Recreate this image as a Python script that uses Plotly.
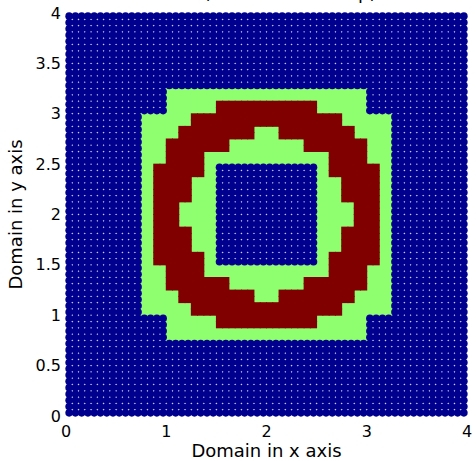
import numpy as np
import plotly.graph_objects as go

# Uniform cell-centred grid on [0, 4] x [0, 4]
DOMAIN = 4.0
N_CELLS = 64

# Cell classes as inclusive index boxes (row_from_top0, row_from_top1, col0, col1)
OUTER_BAND_BOXES = [(12, 51, 16, 47), (16, 47, 12, 51)]
RING_BOXES = [(14, 49, 24, 39), (16, 47, 20, 43), (18, 45, 18, 45),
              (20, 43, 16, 47), (24, 39, 14, 49)]
INNER_BAND_BOXES = [(18, 45, 30, 33), (20, 43, 26, 37), (22, 41, 22, 41),
                    (26, 37, 20, 43), (30, 33, 18, 45)]
CORE_BOXES = [(24, 39, 24, 39)]

CLASS_COLORS = {0: "rgb(0,0,143)", 1: "rgb(143,255,112)", 2: "rgb(128,0,0)"}

X_TICKS = [0, 1, 2, 3, 4]
Y_TICKS = [0, 0.5, 1, 1.5, 2, 2.5, 3, 3.5, 4]

cls = np.zeros((N_CELLS, N_CELLS), dtype=int)


def paint(boxes, value):
    for r0, r1, c0, c1 in boxes:
        cls[r0:r1 + 1, c0:c1 + 1] = value


paint(OUTER_BAND_BOXES, 1)
paint(RING_BOXES, 2)
paint(INNER_BAND_BOXES, 1)
paint(CORE_BOXES, 0)

h = DOMAIN / N_CELLS
rows, cols = np.indices(cls.shape)
xc = (cols + 0.5) * h
yc = DOMAIN - (rows + 0.5) * h

fig = go.Figure()

# band and ring cells first (solid squares), background cells on top as dots
for k in (1, 2):
    m = cls == k
    fig.add_trace(go.Scatter(
        x=xc[m], y=yc[m], mode="markers", cliponaxis=False,
        marker=dict(symbol="square", size=7.2, color=CLASS_COLORS[k],
                    line=dict(width=0)),
        hoverinfo="skip", showlegend=False))

m = cls == 0
fig.add_trace(go.Scatter(
    x=xc[m], y=yc[m], mode="markers", cliponaxis=False,
    marker=dict(symbol="circle", size=7.6, color=CLASS_COLORS[0],
                line=dict(width=0)),
    hoverinfo="skip", showlegend=False))

font = "DejaVu Sans"
fig.update_layout(
    width=476, height=461,
    margin=dict(l=66, r=4, t=13, b=44, pad=0),
    paper_bgcolor="white", plot_bgcolor="white",
    font=dict(family=font, color="black"),
    xaxis=dict(range=[0, 4], tickvals=X_TICKS, ticks="", showgrid=False,
               zeroline=False, showline=False, tickfont=dict(size=16),
               ticklabelstandoff=4, ticklabeloverflow="allow",
               title=dict(text="Domain in x axis", font=dict(size=18),
                          standoff=3)),
    yaxis=dict(range=[0, 4], tickvals=Y_TICKS, ticks="", showgrid=False,
               zeroline=False, showline=False, tickfont=dict(size=16),
               ticklabelstandoff=4, ticklabeloverflow="allow",
               title=dict(text="Domain in y axis", font=dict(size=18),
                          standoff=8)),
    annotations=[dict(text="Cell classification (narrow band map)",
                      xref="paper", yref="paper", x=(383 - 66) / 406,
                      y=1 + 8.5 / 404,
                      xanchor="right", yanchor="bottom", showarrow=False,
                      font=dict(size=18, family=font))],
)

fig.write_html("out.html")
